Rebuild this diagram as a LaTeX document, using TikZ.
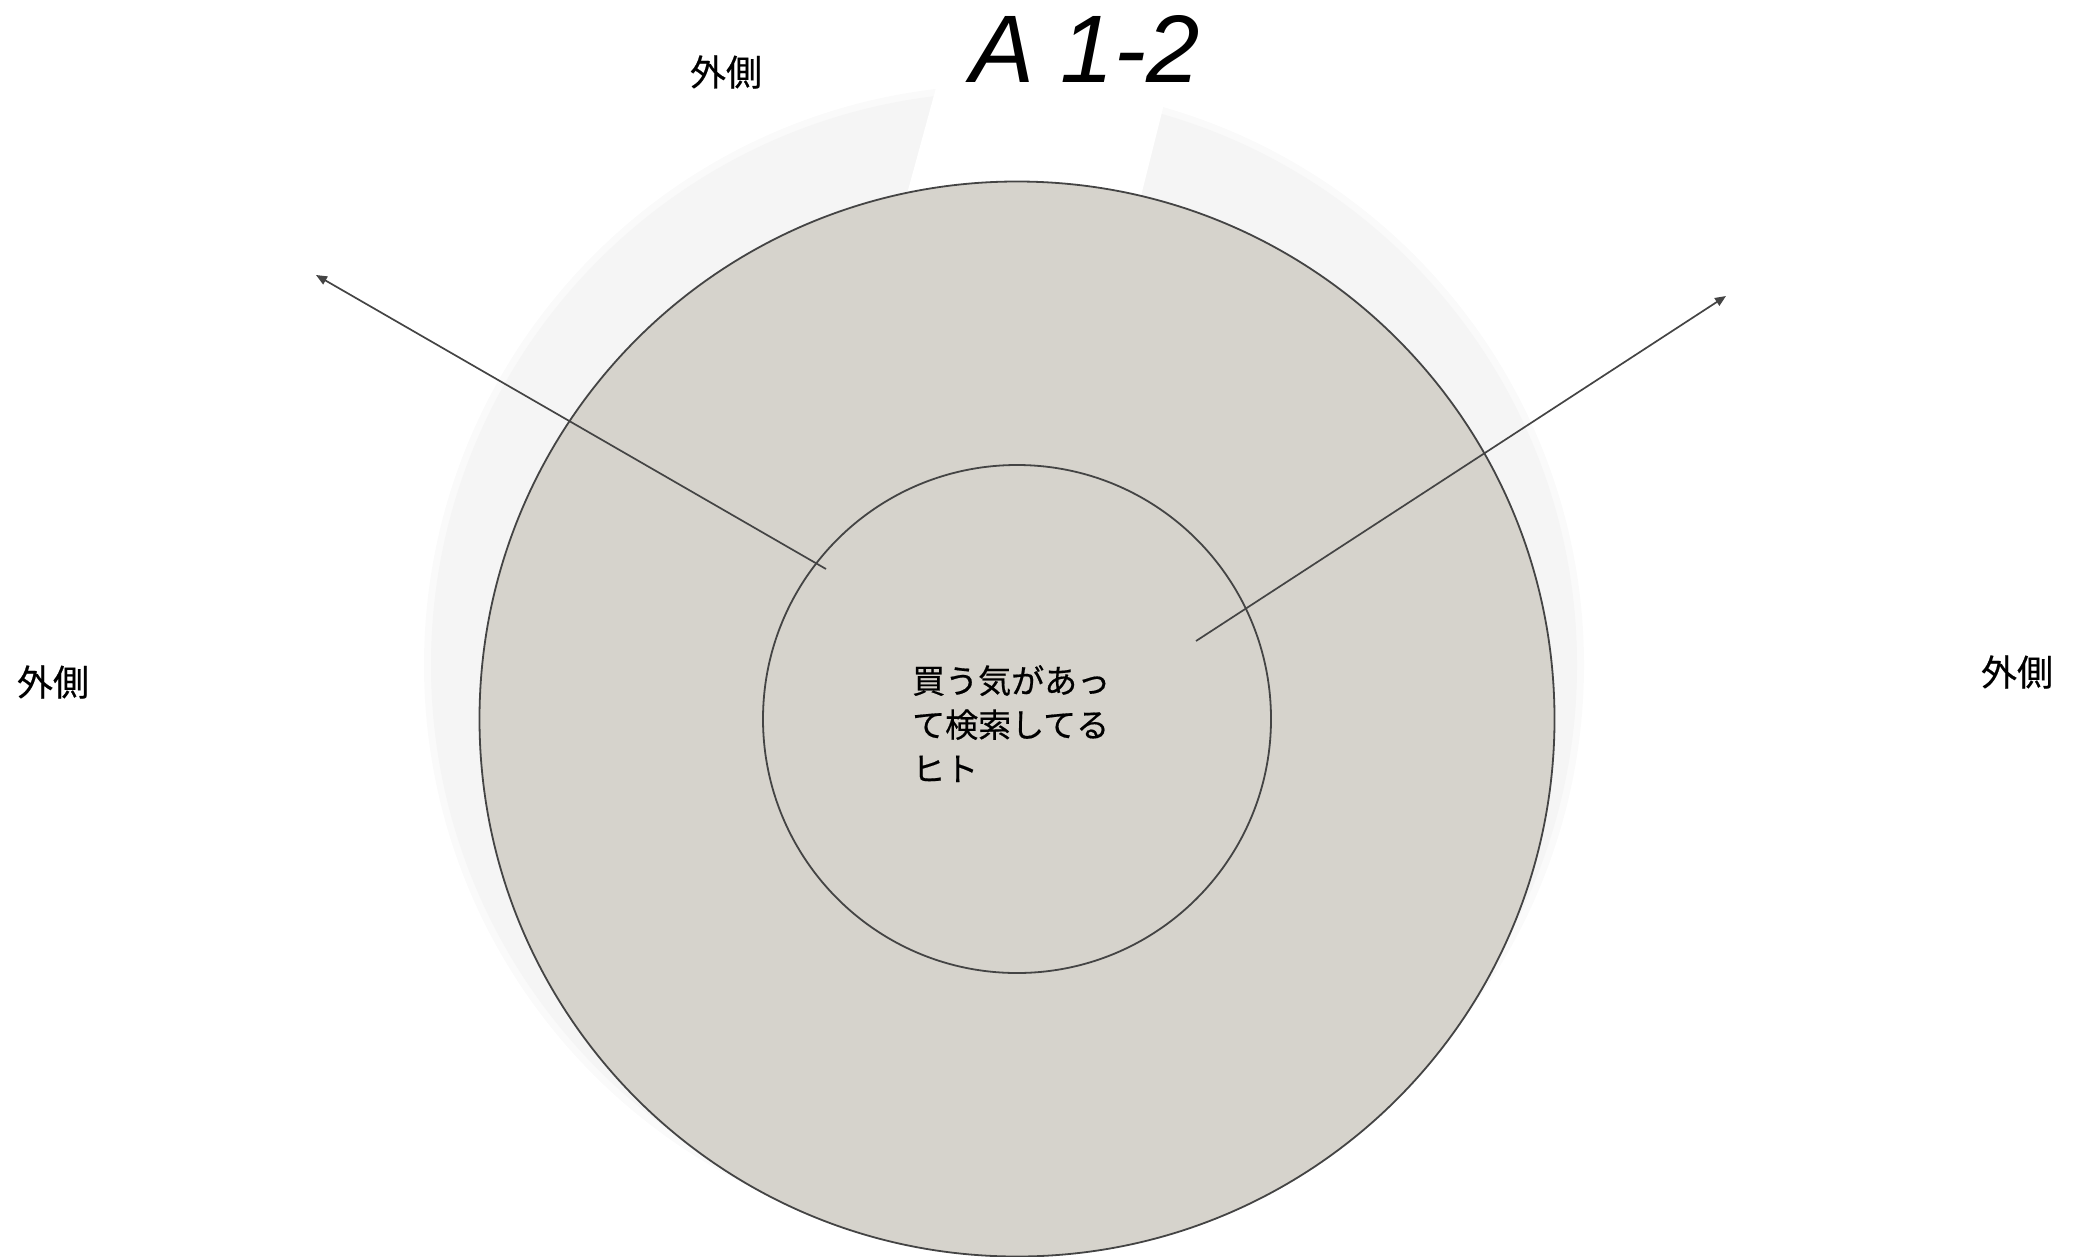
\documentclass[tikz,border=0pt]{standalone}
\usepackage{fontspec}
\setmainfont{Liberation Sans}
\newfontfamily\jpfont[FakeBold=0.5]{Noto Sans CJK JP}
\usetikzlibrary{arrows.meta}
\definecolor{bandgray}{HTML}{F5F5F5}
\definecolor{bandsoft}{HTML}{FAFAFA}
\definecolor{ringfill}{HTML}{D6D3CC}
\definecolor{edgegray}{HTML}{444444}
\tikzset{
  ring/.style={circle, draw=edgegray, line width=1.8pt, fill=ringfill, inner sep=0pt},
  outarrow/.style={draw=edgegray, line width=1.7pt, -{Triangle[length=11pt,width=9pt]}},
  sidelabel/.style={font=\jpfont\fontsize{36}{40}\selectfont, inner sep=0pt},
}
\begin{document}
\begin{tikzpicture}[x=1pt,y=-1pt]
\useasboundingbox (0,0) rectangle (2076,1256);
% light background band with a gap at the top
\fill[bandsoft] (1004,665) circle (580);
\fill[bandgray] (1004,665) circle (573);
\fill[white] (960,0) -- (1190,0) -- (1115,300) -- (878,300) -- cycle;
% rings
\node[ring, minimum size=1075pt] (outer) at (1017,719) {};
\node[ring, fill=none, minimum size=508pt] (inner) at (1017,719) {};
% arrows
\coordinate (lstart) at (826,569);
\coordinate (lend) at (316,275);
\coordinate (rstart) at (1196,641);
\coordinate (rend) at (1726,296);
\draw[outarrow] (lstart) -- (lend);
\draw[outarrow] (rstart) -- (rend);
% texts
\node[font=\fontsize{96}{108}\selectfont\itshape, anchor=base west, inner sep=0pt] (title) at (970,82) {A 1-2};
\node[sidelabel] (ltop) at (726,72) {外側};
\node[sidelabel] (lleft) at (53,682) {外側};
\node[sidelabel] (lright) at (2017,672) {外側};
\node[font=\jpfont\fontsize{33}{44}\selectfont, align=left, anchor=north west, inner sep=0pt] (core) at (912,665) {買う気があっ\\て検索してる\\ヒト};
\end{tikzpicture}
\end{document}
